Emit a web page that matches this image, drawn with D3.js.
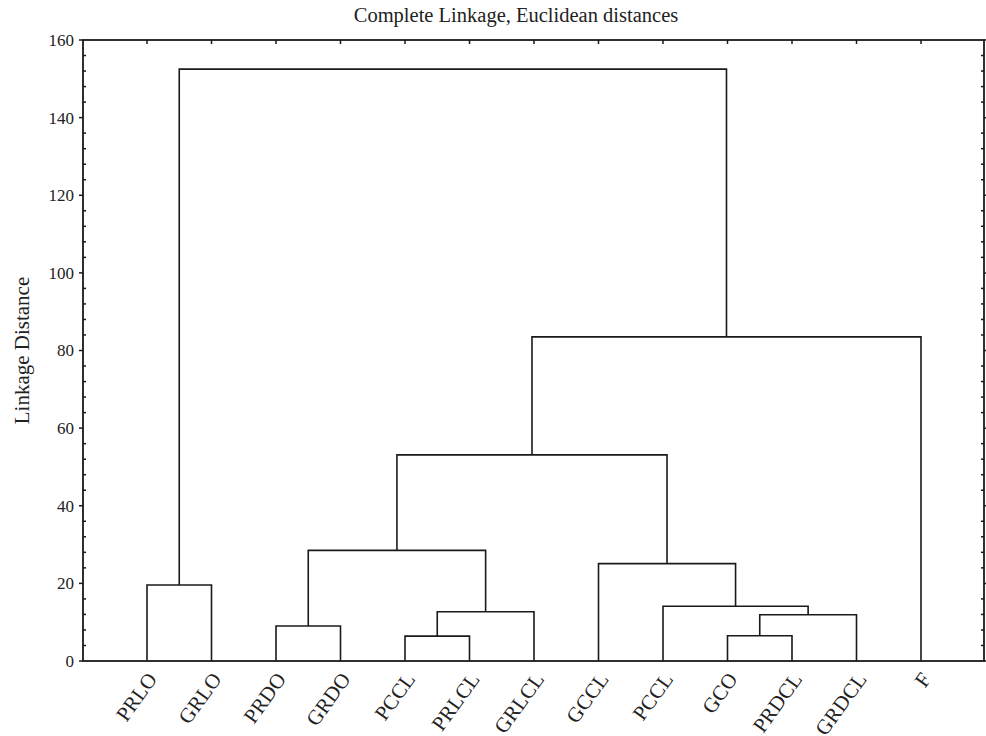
<!DOCTYPE html>
<html><head><meta charset="utf-8">
<script src="https://cdn.jsdelivr.net/npm/d3@7"></script>
<style>body{margin:0;background:#fff;}svg{display:block;}text{font-family:"Liberation Serif","DejaVu Serif",serif;fill:#222;}</style>
</head><body>
<script>
const title = "Complete Linkage, Euclidean distances";
const yLabel = "Linkage Distance";
const leaves = ["PRLO","GRLO","PRDO","GRDO","PCCL","PRLCL","GRLCL","GCCL","PCCL","GCO","PRDCL","GRDCL","F"];
// merges: [childA, childB, height]; indices < 13 are leaves, 13+ refer to earlier merges
const merges = [
  [0, 1, 19.6],
  [2, 3, 9.0],
  [4, 5, 6.4],
  [15, 6, 12.7],
  [14, 16, 28.5],
  [9, 10, 6.5],
  [18, 11, 11.9],
  [8, 19, 14.1],
  [7, 20, 25.1],
  [17, 21, 53.1],
  [22, 12, 83.5],
  [13, 23, 152.5]
];
const yTicks = [0, 20, 40, 60, 80, 100, 120, 140, 160];

const W = 986, H = 736;
const L = 83, R = 984, T = 40, B = 661;
const svg = d3.select("body").append("svg").attr("width", W).attr("height", H);

const x = d3.scaleLinear().domain([1, 13]).range([147, 921]);
const y = d3.scaleLinear().domain([0, 160]).range([B, T]);

const nodes = leaves.map((n, i) => ({x: i + 1, h: 0}));
merges.forEach(([a, b, h]) => {
  nodes.push({x: (nodes[a].x + nodes[b].x) / 2, h: h});
});

const g = svg.append("g");
const stroke = "#1a1a1a";
merges.forEach(([a, b, h]) => {
  const A = nodes[a], Bn = nodes[b];
  const p = d3.path();
  p.moveTo(x(A.x), y(A.h));
  p.lineTo(x(A.x), y(h));
  p.lineTo(x(Bn.x), y(h));
  p.lineTo(x(Bn.x), y(Bn.h));
  g.append("path").attr("d", p.toString()).attr("fill", "none")
    .attr("stroke", stroke).attr("stroke-width", 1.6);
});

svg.append("rect").attr("x", L).attr("y", T).attr("width", R - L).attr("height", B - T)
  .attr("fill", "none").attr("stroke", stroke).attr("stroke-width", 1.8);

const minor = d3.range(0, 161, 4).filter(v => v % 20 !== 0);
const ax = svg.append("g");
yTicks.forEach(v => {
  ax.append("line").attr("x1", L - 4).attr("x2", L).attr("y1", y(v)).attr("y2", y(v))
    .attr("stroke", stroke).attr("stroke-width", 1.5);
  ax.append("line").attr("x1", R).attr("x2", R + 3).attr("y1", y(v)).attr("y2", y(v))
    .attr("stroke", stroke).attr("stroke-width", 1.5);
  ax.append("text").attr("x", L - 9).attr("y", y(v)).attr("dy", "0.35em")
    .attr("text-anchor", "end").attr("font-size", 17).text(v);
});
minor.forEach(v => {
  ax.append("line").attr("x1", L).attr("x2", L + 3).attr("y1", y(v)).attr("y2", y(v))
    .attr("stroke", stroke).attr("stroke-width", 1.5);
  ax.append("line").attr("x1", R - 3).attr("x2", R).attr("y1", y(v)).attr("y2", y(v))
    .attr("stroke", stroke).attr("stroke-width", 1.5);
});
leaves.forEach((n, i) => {
  ax.append("line").attr("x1", x(i + 1)).attr("x2", x(i + 1)).attr("y1", T).attr("y2", T + 4)
    .attr("stroke", stroke).attr("stroke-width", 1.5);
});

leaves.forEach((n, i) => {
  svg.append("text")
    .attr("transform", `translate(${x(i + 1) + 5},${B + 14}) rotate(-54)`)
    .attr("text-anchor", "end").attr("dy", "0.35em").attr("font-size", 21).text(n);
});

svg.append("text").attr("x", 516).attr("y", 22).attr("text-anchor", "middle")
  .attr("font-size", 20.5).text(title);
svg.append("text").attr("transform", `translate(29,${(T + B) / 2}) rotate(-90)`)
  .attr("text-anchor", "middle").attr("font-size", 21).text(yLabel);
</script>
</body></html>
